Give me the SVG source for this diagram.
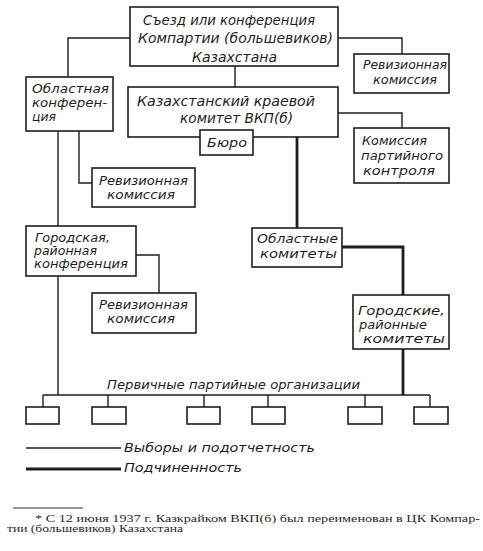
<svg xmlns="http://www.w3.org/2000/svg" width="483" height="551" viewBox="0 0 483 551">
<style>
.bx{fill:#fff;stroke:#1e1e1e;stroke-width:1.6}
.thin{fill:none;stroke:#1e1e1e;stroke-width:1.4}
.thick{fill:none;stroke:#1e1e1e;stroke-width:2.8}
.t{font-family:"DejaVu Sans","Liberation Sans",sans-serif;font-style:italic;font-size:13px;fill:#1e1e1e}
.ts{font-family:"DejaVu Sans","Liberation Sans",sans-serif;font-style:italic;font-size:11.5px;fill:#1e1e1e}
.tb{font-family:"DejaVu Sans","Liberation Sans",sans-serif;font-style:italic;font-size:14px;fill:#1e1e1e}
.fn{font-family:"Liberation Serif",serif;font-size:10.5px;fill:#2a2a2a}
</style>
<rect width="483" height="551" fill="#fff"/>
<g id="connectors">
<path class="thin" d="M130,38H68V77"/>
<path class="thin" d="M338,38H402V54"/>
<path class="thin" d="M235,66V87"/>
<path class="thin" d="M338,113H402V128"/>
<path class="thin" d="M58,131V226"/>
<path class="thin" d="M79,131V183H92"/>
<path class="thin" d="M136,255H159V293"/>
<path class="thin" d="M58,276V395"/>
<path class="thin" d="M43,395H430"/>
<path class="thin" d="M43,395V407M108,395V407M204,395V407M268,395V407M365,395V407M430,395V407"/>
<path class="thick" d="M297,137V228"/>
<path class="thick" d="M342,247H403V295"/>
<path class="thick" d="M403,349V395"/>
</g>
<g id="congress">
<rect class="bx" x="130" y="7" width="208" height="59"/>
<text class="tb" x="143" y="25" textLength="172" lengthAdjust="spacingAndGlyphs">Съезд или конференция</text>
<text class="tb" x="138" y="43" textLength="195" lengthAdjust="spacingAndGlyphs">Компартии (большевиков)</text>
<text class="tb" x="192" y="62" textLength="85" lengthAdjust="spacingAndGlyphs">Казахстана</text>
</g>
<g id="audit-top">
<rect class="bx" x="354" y="54" width="95" height="39"/>
<text class="t" x="363" y="69" textLength="84" lengthAdjust="spacingAndGlyphs">Ревизионная</text>
<text class="t" x="373" y="84" textLength="64" lengthAdjust="spacingAndGlyphs">комиссия</text>
</g>
<g id="regional-conf">
<rect class="bx" x="26" y="77" width="87" height="54"/>
<text class="ts" x="32" y="93" textLength="77" lengthAdjust="spacingAndGlyphs">Областная</text>
<text class="ts" x="32" y="107" textLength="75" lengthAdjust="spacingAndGlyphs">конферен-</text>
<text class="ts" x="32" y="121" textLength="24" lengthAdjust="spacingAndGlyphs">ция</text>
</g>
<g id="kraikom">
<rect class="bx" x="128" y="87" width="210" height="50"/>
<text class="tb" x="137" y="106" textLength="178" lengthAdjust="spacingAndGlyphs">Казахстанский краевой</text>
<text class="tb" x="180" y="123" textLength="113" lengthAdjust="spacingAndGlyphs">комитет ВКП(б)</text>
</g>
<g id="buro">
<rect class="bx" x="200" y="130" width="53" height="25"/>
<text class="t" x="207" y="147" textLength="40" lengthAdjust="spacingAndGlyphs">Бюро</text>
</g>
<g id="control">
<rect class="bx" x="354" y="128" width="95" height="55"/>
<text class="ts" x="362" y="145" textLength="65" lengthAdjust="spacingAndGlyphs">Комиссия</text>
<text class="ts" x="361" y="160" textLength="82" lengthAdjust="spacingAndGlyphs">партийного</text>
<text class="ts" x="363" y="175" textLength="72" lengthAdjust="spacingAndGlyphs">контроля</text>
</g>
<g id="audit-mid">
<rect class="bx" x="92" y="168" width="103" height="39"/>
<text class="t" x="99" y="185" textLength="89" lengthAdjust="spacingAndGlyphs">Ревизионная</text>
<text class="t" x="107" y="199" textLength="68" lengthAdjust="spacingAndGlyphs">комиссия</text>
</g>
<g id="city-conf">
<rect class="bx" x="26" y="226" width="110" height="50"/>
<text class="ts" x="35" y="242" textLength="75" lengthAdjust="spacingAndGlyphs">Городская,</text>
<text class="ts" x="34" y="255" textLength="63" lengthAdjust="spacingAndGlyphs">районная</text>
<text class="ts" x="34" y="268" textLength="94" lengthAdjust="spacingAndGlyphs">конференция</text>
</g>
<g id="oblkom">
<rect class="bx" x="252" y="228" width="90" height="39"/>
<text class="t" x="257" y="243" textLength="81" lengthAdjust="spacingAndGlyphs">Областные</text>
<text class="t" x="260" y="258" textLength="77" lengthAdjust="spacingAndGlyphs">комитеты</text>
</g>
<g id="audit-low">
<rect class="bx" x="92" y="293" width="104" height="40"/>
<text class="t" x="99" y="309" textLength="89" lengthAdjust="spacingAndGlyphs">Ревизионная</text>
<text class="t" x="107" y="323" textLength="68" lengthAdjust="spacingAndGlyphs">комиссия</text>
</g>
<g id="gorkom">
<rect class="bx" x="353" y="295" width="96" height="54"/>
<text class="ts" x="358" y="315" textLength="87" lengthAdjust="spacingAndGlyphs">Городские,</text>
<text class="ts" x="359" y="329" textLength="68" lengthAdjust="spacingAndGlyphs">районные</text>
<text class="ts" x="363" y="343" textLength="82" lengthAdjust="spacingAndGlyphs">комитеты</text>
</g>
<g id="primary">
<text class="t" x="107" y="389" textLength="253" lengthAdjust="spacingAndGlyphs">Первичные партийные организации</text>
<rect class="bx" x="26" y="407" width="33" height="17"/>
<rect class="bx" x="92" y="407" width="34" height="17"/>
<rect class="bx" x="187" y="407" width="33" height="17"/>
<rect class="bx" x="252" y="407" width="33" height="17"/>
<rect class="bx" x="348" y="407" width="34" height="17"/>
<rect class="bx" x="414" y="407" width="34" height="17"/>
</g>
<g id="legend">
<line class="thin" x1="26" y1="448" x2="121" y2="448"/>
<text class="t" x="124" y="452" textLength="191" lengthAdjust="spacingAndGlyphs">Выборы и подотчетность</text>
<line class="thick" x1="26" y1="469" x2="121" y2="469"/>
<text class="t" x="124" y="472" textLength="118" lengthAdjust="spacingAndGlyphs">Подчиненность</text>
</g>
<g id="footnote">
<line x1="13" y1="508" x2="83" y2="508" stroke="#2a2a2a" stroke-width="1"/>
<text class="fn" x="35" y="522" textLength="445" lengthAdjust="spacingAndGlyphs">* С 12 июня 1937 г. Казкрайком ВКП(б) был переименован в ЦК Компар-</text>
<text class="fn" x="7" y="532" textLength="176" lengthAdjust="spacingAndGlyphs">тии (большевиков) Казахстана</text>
</g>
</svg>
